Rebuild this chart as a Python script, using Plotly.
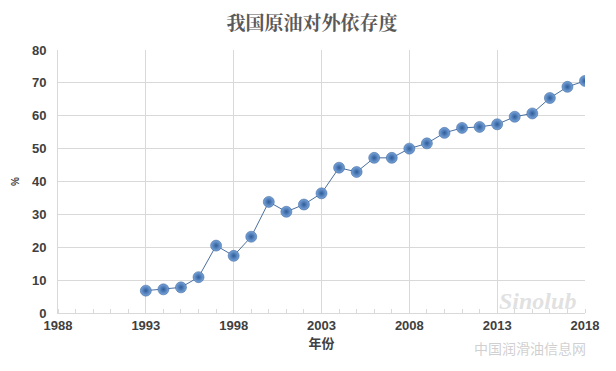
import plotly.graph_objects as go

years = list(range(1993, 2019))
dependence = [6.8, 7.2, 7.8, 10.9, 20.5, 17.4, 23.2, 33.8, 30.8, 33.0, 36.4,
              44.2, 42.9, 47.2, 47.2, 50.0, 51.6, 54.8, 56.3, 56.6, 57.4,
              59.7, 60.7, 65.4, 68.8, 70.6]
x_ticks = [1988, 1993, 1998, 2003, 2008, 2013, 2018]
y_ticks = [0, 10, 20, 30, 40, 50, 60, 70, 80]

# The page body has an 8px default margin, so the figure is sized to fit the window.
W, H = 608, 363
L, T, R, B = 50, 42, 31, 58

fig = go.Figure()
fig.add_trace(go.Scatter(
    x=years, y=dependence, mode="lines+markers",
    line=dict(color="#4a6f9e", width=1),
    marker=dict(size=11, color="#7aa5dc",
                gradient=dict(type="radial", color="#2d5c98"),
                line=dict(color="#2f5a92", width=0.5)),
    showlegend=False,
))

tickfont = dict(family="Liberation Sans, Arial, sans-serif", size=13, color="#404040", weight="bold")

fig.update_layout(
    width=W, height=H,
    margin=dict(l=L, r=R, t=T, b=B, pad=0),
    paper_bgcolor="white", plot_bgcolor="white",
    title=dict(text="<b>我国原油对外依存度</b>", x=0.5, xanchor="center", y=1 - 15 / H, yanchor="middle",
               font=dict(family="Noto Serif CJK SC, Noto Sans CJK SC, serif", size=19, color="#595959")),
    xaxis=dict(range=[1988, 2018], tickvals=x_ticks, ticktext=[str(v) for v in x_ticks],
               showgrid=True, gridcolor="#d9d9d9", gridwidth=1, automargin=False,
               zeroline=False, showline=True, linecolor="#d9d9d9", mirror=False,
               tickfont=tickfont, ticks="",
               minor=dict(dtick=1, tick0=1988, ticks="inside", ticklen=4, tickcolor="#d9d9d9", showgrid=False),
               title=dict(text="<b>年份</b>", font=dict(family="Noto Sans CJK SC", size=13, color="#404040"), standoff=5)),
    yaxis=dict(range=[0, 80], tickvals=y_ticks, showgrid=True, gridcolor="#d9d9d9", gridwidth=1,
               zeroline=False, showline=True, linecolor="#d9d9d9", automargin=False,
               tickfont=tickfont, ticks="", ticklabelstandoff=8,
               title=dict(text="<b>%</b>", font=dict(family="Liberation Sans, Arial", size=10, color="#404040"), standoff=10)),
)
pw = W - L - R
ph = H - T - B
def px(xp): return (xp - 8 - L) / pw
def py(yp): return (313 - yp) / ph
fig.add_annotation(text="<i><b>Sinolub</b></i>", x=px(537), y=py(301), xref="paper", yref="paper",
                   xanchor="center", yanchor="middle",
                   showarrow=False, font=dict(family="Liberation Serif, serif", size=24, color="rgba(205,205,205,0.6)"))
fig.add_annotation(text="中国润滑油信息网", x=px(530), y=py(348), xref="paper", yref="paper",
                   xanchor="center", yanchor="middle",
                   showarrow=False, font=dict(family="Noto Sans CJK SC", size=14, color="rgba(200,200,200,0.85)"))

fig.write_html("out.html")
